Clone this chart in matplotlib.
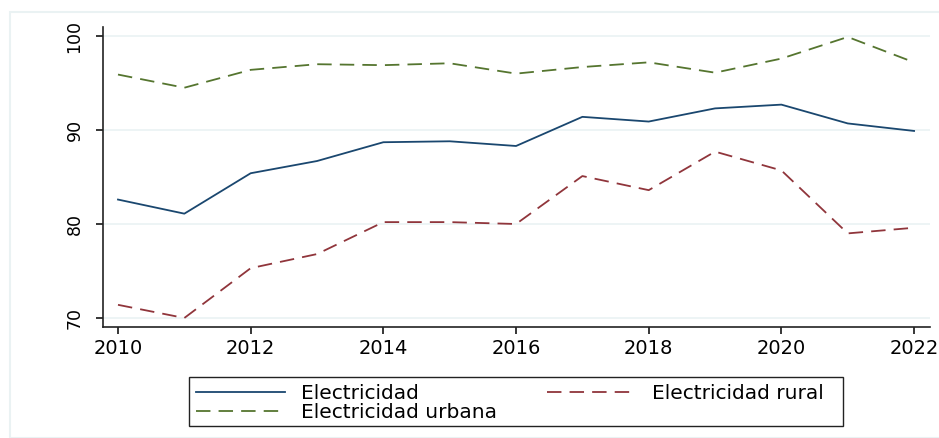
import matplotlib

matplotlib.use("Agg")
import matplotlib.pyplot as plt
from matplotlib.patches import Rectangle

plt.rcParams["font.family"] = ["DejaVu Sans"]

years = list(range(2010, 2023))
electricidad = [82.6, 81.1, 85.4, 86.7, 88.7, 88.8, 88.3, 91.4, 90.9, 92.3, 92.7, 90.7, 89.9]
rural = [71.4, 70.0, 75.3, 76.8, 80.2, 80.2, 80.0, 85.1, 83.6, 87.7, 85.7, 79.0, 79.6]
urbana = [95.9, 94.5, 96.4, 97.0, 96.9, 97.1, 96.0, 96.7, 97.2, 96.1, 97.6, 99.9, 97.2]
y_ticks = [70, 80, 90, 100]
x_ticks = [2010, 2012, 2014, 2016, 2018, 2020, 2022]

navy = "#1a476f"
maroon = "#90353b"
green = "#55752f"
grid = "#eaf2f3"

fig = plt.figure(figsize=(9.39, 4.38), dpi=100)
# light outer border
fig.patches.append(Rectangle((10 / 939, 0), 1, 1 - 12 / 438, transform=fig.transFigure,
                             fill=False, edgecolor=grid, linewidth=1.5))
ax = fig.add_axes([103 / 939, 1 - 327 / 438, 827 / 939, 300 / 438])

l1, = ax.plot(years, electricidad, color=navy, lw=1.3, label="Electricidad")
l2, = ax.plot(years, rural, color=maroon, lw=1.3, dashes=(8, 4.5), label="Electricidad rural")
l3, = ax.plot(years, urbana, color=green, lw=1.3, dashes=(8, 4.5), label="Electricidad urbana")

ax.set_xlim(2009.774, 2022.24)
ax.set_ylim(69.04, 100.96)
ax.set_yticks(y_ticks)
ax.set_xticks(x_ticks)
ax.grid(axis="y", color=grid, lw=1.2)
ax.set_axisbelow(True)
for s in ["top", "right"]:
    ax.spines[s].set_visible(False)
for s in ["left", "bottom"]:
    ax.spines[s].set_color("#222222")
    ax.spines[s].set_linewidth(1.2)
ax.tick_params(direction="out", length=5, width=1.1)
ax.tick_params(axis="x", labelsize=14, pad=4)
ax.tick_params(axis="y", labelsize=12.5, pad=9)
for lbl in ax.get_yticklabels():
    lbl.set_rotation(90)
    lbl.set_va("center")

# order so that row 1 = Electricidad / rural, row 2 = urbana
leg = fig.legend(handles=[l1, l3, l2], loc="upper left", ncol=2,
                 bbox_to_anchor=(189 / 939, 1 - 377 / 438),
                 fontsize=14.5, frameon=False,
                 handlelength=4.4, handletextpad=0.8, borderaxespad=0,
                 labelspacing=0.0, borderpad=0.35, columnspacing=2.5)
# legend box, a bit wider on the right like the original
fig.patches.append(Rectangle((189 / 939, 1 - 426 / 438), (843 - 189) / 939, 49 / 438,
                             transform=fig.transFigure, fill=False,
                             edgecolor="#222222", linewidth=1.0))

fig.savefig("out.png", dpi=100)
